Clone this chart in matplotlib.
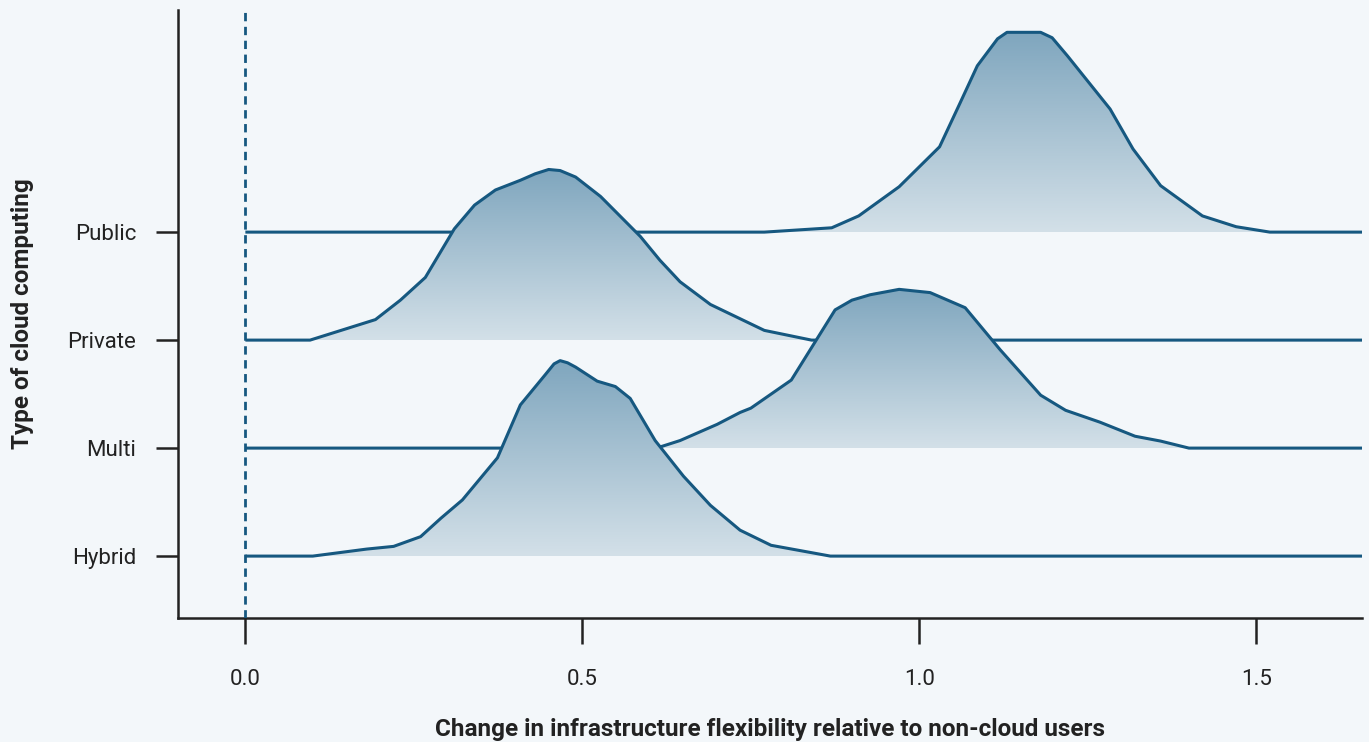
import matplotlib
matplotlib.use("Agg")
import matplotlib.pyplot as plt
import numpy as np
from matplotlib.colors import LinearSegmentedColormap
from matplotlib.patches import Polygon

plt.rcParams['font.family'] = ['Roboto', 'DejaVu Sans']

# categories, bottom to top
categories = ["Hybrid", "Multi", "Private", "Public"]

# density curves: x positions and heights (in units of row spacing)
hybrid_x = [0.0, 0.10, 0.18, 0.22, 0.26, 0.29, 0.322, 0.374, 0.408, 0.445, 0.458, 0.467,
            0.478, 0.49, 0.522, 0.549, 0.571, 0.608, 0.65, 0.69, 0.734, 0.78, 0.868, 1.66]
hybrid_h = [0.0, 0.0, 0.065, 0.09, 0.18, 0.35, 0.52, 0.91, 1.40, 1.68, 1.78, 1.81,
            1.79, 1.75, 1.62, 1.57, 1.46, 1.07, 0.74, 0.47, 0.24, 0.10, 0.0, 0.0]

multi_x = [0.0, 0.61, 0.645, 0.70, 0.734, 0.75, 0.81, 0.875, 0.90, 0.927, 0.97, 1.016,
           1.068, 1.12, 1.18, 1.217, 1.268, 1.32, 1.358, 1.40, 1.66]
multi_h = [0.0, 0.0, 0.07, 0.22, 0.33, 0.37, 0.63, 1.28, 1.37, 1.42, 1.47, 1.44,
           1.30, 0.91, 0.49, 0.35, 0.24, 0.11, 0.065, 0.0, 0.0]

private_x = [0.0, 0.096, 0.193, 0.230, 0.267, 0.31, 0.34, 0.371, 0.408, 0.43, 0.45, 0.467,
             0.49, 0.527, 0.586, 0.615, 0.645, 0.69, 0.77, 0.84, 1.66]
private_h = [0.0, 0.0, 0.19, 0.37, 0.58, 1.03, 1.25, 1.39, 1.48, 1.54, 1.58, 1.57,
             1.51, 1.33, 0.96, 0.74, 0.54, 0.33, 0.09, 0.0, 0.0]

public_x = [0.0, 0.77, 0.87, 0.91, 0.97, 1.03, 1.06, 1.086, 1.116, 1.13, 1.18, 1.197,
            1.22, 1.283, 1.317, 1.358, 1.42, 1.47, 1.52, 1.66]
public_h = [0.0, 0.0, 0.04, 0.15, 0.42, 0.79, 1.19, 1.54, 1.79, 1.85, 1.85, 1.80,
            1.63, 1.14, 0.77, 0.43, 0.15, 0.05, 0.0, 0.0]

curves = [(hybrid_x, hybrid_h), (multi_x, multi_h),
          (private_x, private_h), (public_x, public_h)]

x_ticks = [0.0, 0.5, 1.0, 1.5]
x_tick_labels = ["0.0", "0.5", "1.0", "1.5"]

bg = "#f3f7fa"
line_col = "#165880"
grad = LinearSegmentedColormap.from_list("ridge", ["#d3e0e8", "#7fa6be"])

fig = plt.figure(figsize=(13.69, 7.42), dpi=100, facecolor=bg)
ax = fig.add_axes([0.130, 0.167, 0.865, 0.820])
ax.set_facecolor(bg)

gradient = np.linspace(0, 1, 256).reshape(-1, 1)

# draw top row first so lower rows sit on top
for i in range(len(categories) - 1, -1, -1):
    xs = np.array(curves[i][0])
    hs = np.array(curves[i][1])
    base = i
    z = 10 + (len(categories) - i) * 2
    verts = np.column_stack([np.r_[xs, xs[::-1]], np.r_[base + hs, np.full(len(xs), base)]])
    patch = Polygon(verts, closed=True, facecolor="none", edgecolor="none")
    ax.add_patch(patch)
    img = ax.imshow(gradient, extent=[xs.min(), xs.max(), base, base + hs.max()],
                    origin="lower", aspect="auto", cmap=grad, interpolation="bicubic",
                    zorder=z)
    img.set_clip_path(patch)
    ax.plot(xs, base + hs, color=line_col, lw=2.2, zorder=z + 1,
            solid_joinstyle="round", solid_capstyle="butt")

ax.axvline(0, color=line_col, lw=2, ls=(0, (3, 2)), zorder=30)

ax.set_xlim(-0.1, 1.657)
ax.set_ylim(-0.574, 5.06)

ax.set_xticks(x_ticks)
ax.set_xticklabels(x_tick_labels)
ax.set_yticks(range(len(categories)))
ax.set_yticklabels(categories)

for s in ["top", "right"]:
    ax.spines[s].set_visible(False)
for s in ["left", "bottom"]:
    ax.spines[s].set_linewidth(1.8)
    ax.spines[s].set_color("#222222")

ax.tick_params(axis="x", length=19, width=1.8, color="#222222", pad=18,
               labelsize=16, labelcolor="#222222")
ax.tick_params(axis="y", length=16, width=1.8, color="#222222", pad=14,
               labelsize=16, labelcolor="#222222")

ax.set_xlabel("Change in infrastructure flexibility relative to non-cloud users",
              fontsize=17.5, fontweight="bold", color="#222222", labelpad=20)
ax.set_ylabel("Type of cloud computing", fontsize=17.5, fontweight="bold",
              color="#222222", labelpad=24)

fig.savefig("out.png", dpi=100, facecolor=bg)
